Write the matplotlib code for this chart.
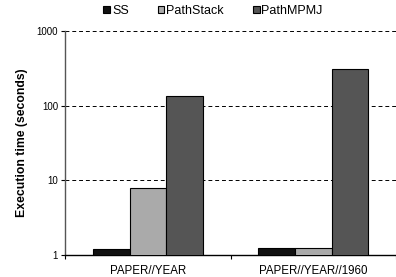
import matplotlib
matplotlib.use("Agg")
import matplotlib.pyplot as plt
import numpy as np

plt.rcParams['font.family'] = ['Liberation Sans', 'DejaVu Sans']

categories = ["PAPER//YEAR", "PAPER//YEAR//1960"]
series_names = ["SS", "PathStack", "PathMPMJ"]
ss = [1.22, 1.24]
pathstack = [8.0, 1.23]
pathmpmj = [134, 310]
colors = ["#111111", "#aaaaaa", "#555555"]

fig = plt.figure(figsize=(3.96, 2.77), dpi=100)
ax = fig.add_axes([0.164, 0.0794, 0.836, 0.8086])
ax.set_yscale("log")

x = np.arange(len(categories))
w = 0.222
for i, (vals, name, c) in enumerate(zip([ss, pathstack, pathmpmj], series_names, colors)):
    ax.bar(x + (i - 1) * w, vals, width=w, color=c, edgecolor="black",
           linewidth=0.8, label=name, zorder=3)

ax.set_ylim(1, 1000)
ax.set_xlim(-0.503, 1.479)
ax.set_yticks([1, 10, 100, 1000])
ax.set_yticklabels(["1", "10", "100", "1000"])
ax.yaxis.set_minor_locator(matplotlib.ticker.NullLocator())
ax.tick_params(axis="y", labelsize=7, length=3, width=0.8, direction="out", pad=2)
for yv in [10, 100, 1000]:
    ax.axhline(yv, color="black", linestyle=(0, (4, 3)), linewidth=0.7, zorder=1)

ax.set_xticks([-0.5, 0.5, 1.5])
ax.set_xticklabels([])
ax.set_xticks(x, minor=True)
ax.set_xticklabels(categories, minor=True)
ax.tick_params(axis="x", which="major", length=3, width=0.8, direction="out")
ax.tick_params(axis="x", which="minor", length=0, labelsize=8.3, pad=7)

ax.spines["top"].set_visible(False)
ax.spines["right"].set_visible(False)
ax.spines["left"].set_color("#555555")
ax.spines["left"].set_linewidth(1.0)
ax.spines["bottom"].set_color("black")
ax.spines["bottom"].set_linewidth(1.0)

ax.set_ylabel("Execution time (seconds)", fontsize=8.8, fontweight="bold", labelpad=6)

leg = fig.legend(loc="center", bbox_to_anchor=(0.538, 0.96), ncol=3, frameon=False,
                 fontsize=9, handlelength=0.55, handleheight=0.55, handletextpad=0.15,
                 columnspacing=2.3)

fig.savefig("out.png", dpi=100)
